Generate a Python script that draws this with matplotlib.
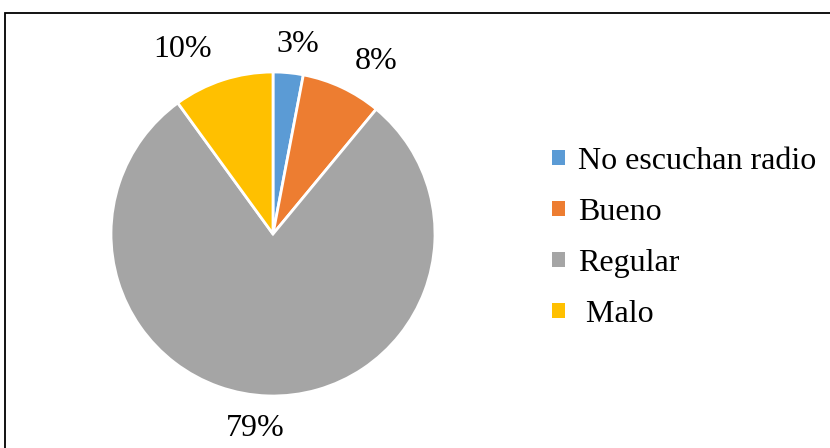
import matplotlib.pyplot as plt
from matplotlib.patches import Rectangle

categories = ['No escuchan radio', 'Bueno', 'Regular', ' Malo']
values = [3, 8, 79, 10]
colors = ['#5B9BD5', '#ED7D31', '#A5A5A5', '#FFC000']

# where each percentage label sits, in pie radii from the centre (layout only)
label_xy = [(0.154, 1.167), (0.636, 1.062), (-0.111, -1.198), (-0.556, 1.136)]

plt.rcParams['font.family'] = ['Liberation Serif', 'DejaVu Serif']

W, H = 830, 448
fig = plt.figure(figsize=(W / 100, H / 100), dpi=100)

# pie area: center (273, 234), radius 162 px
cx, cy, r = 273, 234, 162
ax = fig.add_axes([(cx - r) / W, (H - cy - r) / H, 2 * r / W, 2 * r / H])

wedges, texts, autotexts = ax.pie(
    values, colors=colors, startangle=90, counterclock=False,
    autopct='%1.0f%%', pctdistance=1.2,
    wedgeprops=dict(edgecolor='white', linewidth=2),
    textprops=dict(fontsize=23, color='black'))
for t, xy in zip(autotexts, label_xy):
    t.set_position(xy)
ax.set_xlim(-1, 1)
ax.set_ylim(-1, 1)

leg = fig.legend(wedges, categories, loc='center left',
                 bbox_to_anchor=(552 / W, (H - 238) / H),
                 frameon=False, fontsize=23, borderpad=0, borderaxespad=0,
                 handlelength=0.4, handleheight=0.36,
                 handletextpad=0.42, labelspacing=0.69)
for h in leg.legend_handles:
    h.set_linewidth(0)

# outer frame (only left and top edges fall inside the image)
fig.patches.append(Rectangle((5 / W, -0.1), 1.2, (H - 13) / H + 0.1,
                             transform=fig.transFigure, fill=False,
                             edgecolor='black', linewidth=1.3))

fig.savefig('out.png', dpi=100)
